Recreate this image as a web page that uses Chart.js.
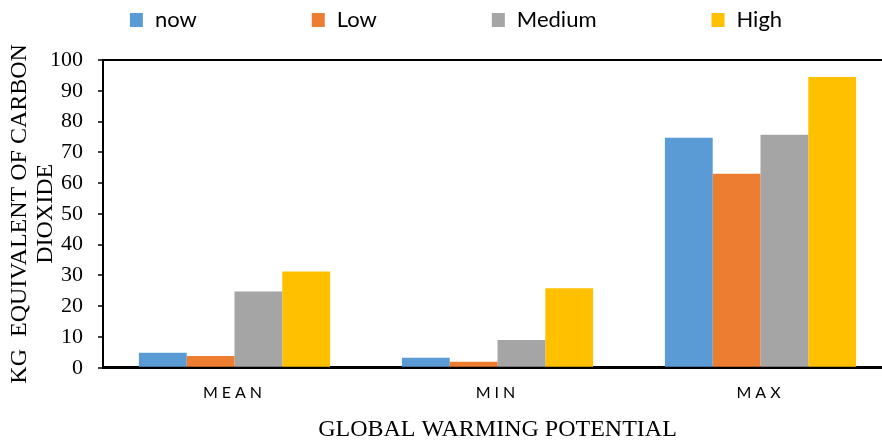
<!DOCTYPE html>
<html lang="en">
<head>
    <meta charset="UTF-8">
    <title>Global Warming Potential</title>
    <style>
        body { margin: 0; background: #fff; }
        /* plot runs a little past the right edge, like the cropped original */
        #chart-container { width: 882px; height: 441px; overflow: hidden; }
    </style>
    <script src="https://cdn.jsdelivr.net/npm/chart.js"></script>
</head>
<body>
<div id="chart-container">
    <canvas id="gwpChart" width="892" height="441"></canvas>
</div>
<script>
    // values (kg CO2 equivalent)
    const categories = ['MEAN', 'MIN', 'MAX'];
    const seriesNames = ['now', 'Low', 'Medium', 'High'];
    const nowValues = [4.9, 3.2, 74.7];
    const lowValues = [3.8, 1.9, 63.0];
    const mediumValues = [24.8, 9.0, 75.7];
    const highValues = [31.3, 25.8, 94.5];
    const yMin = 0, yMax = 100, yStep = 10;

    const seriesValues = [nowValues, lowValues, mediumValues, highValues];
    const seriesColors = ['#5B9BD5', '#ED7D31', '#A5A5A5', '#FFC000'];

    // spaced-out category labels + Excel-style legend on top
    const excelLook = {
        id: 'excelLook',
        afterDatasetsDraw(chart) {
            chart.ctx.letterSpacing = '4px';
        },
        afterDraw(chart) {
            const ctx = chart.ctx;
            ctx.letterSpacing = '0px';
            ctx.save();
            ctx.font = '22px Lato';
            ctx.textBaseline = 'middle';
            ctx.textAlign = 'left';
            const boxW = 13, boxH = 14, textGap = 12, itemGap = 115;
            const widths = chart.data.datasets.map(ds => boxW + textGap + ctx.measureText(ds.label).width);
            const total = widths.reduce((a, b) => a + b, 0) + itemGap * (widths.length - 1);
            let x = chart.width / 2 + 10 - total / 2;
            chart.data.datasets.forEach((ds, i) => {
                ctx.fillStyle = ds.backgroundColor;
                ctx.fillRect(x, 13, boxW, boxH);
                ctx.fillStyle = '#000';
                ctx.fillText(ds.label, x + boxW + textGap, 20);
                x += widths[i] + itemGap;
            });
            ctx.restore();
        }
    };

    new Chart(document.getElementById('gwpChart'), {
        type: 'bar',
        data: {
            labels: categories,
            datasets: seriesNames.map((name, i) => ({
                label: name,
                data: seriesValues[i],
                backgroundColor: seriesColors[i],
                borderWidth: 0,
                categoryPercentage: 0.727,
                barPercentage: 1.0
            }))
        },
        options: {
            responsive: false,
            devicePixelRatio: 1,
            animation: false,
            layout: { padding: { top: 60, right: 0, bottom: 0, left: 0 } },
            plugins: {
                legend: { display: false },
                tooltip: { enabled: false }
            },
            scales: {
                x: {
                    offset: true,
                    grid: { display: false, drawTicks: false },
                    border: { color: '#000', width: 3 },
                    ticks: {
                        color: '#000',
                        padding: 16,
                        z: 1,
                        font: { family: 'Lato', size: 16 }
                    },
                    title: {
                        display: true,
                        text: 'GLOBAL WARMING POTENTIAL',
                        color: '#000',
                        padding: { top: 0, bottom: 0 },
                        font: { family: 'Liberation Serif', size: 24, lineHeight: 0.92 }
                    }
                },
                y: {
                    min: yMin,
                    max: yMax,
                    afterFit: scale => { scale.width = 103; },
                    grid: {
                        color: ctx => ctx.tick && ctx.tick.value === yMax ? '#000' : 'rgba(0,0,0,0)',
                        lineWidth: 2,
                        tickColor: '#000',
                        tickLength: 5,
                        tickWidth: 1.5
                    },
                    border: { color: '#000', width: 2 },
                    ticks: {
                        stepSize: yStep,
                        color: '#000',
                        padding: 15,
                        font: { family: 'Liberation Serif', size: 22 }
                    },
                    title: {
                        display: true,
                        text: ['KG  EQUIVALENT OF CARBON', 'DIOXIDE'],
                        color: '#000',
                        padding: { top: 7, bottom: 0 },
                        font: { family: 'Liberation Serif', size: 24, lineHeight: 1.08 }
                    }
                }
            }
        },
        plugins: [excelLook]
    });
</script>
</body>
</html>
